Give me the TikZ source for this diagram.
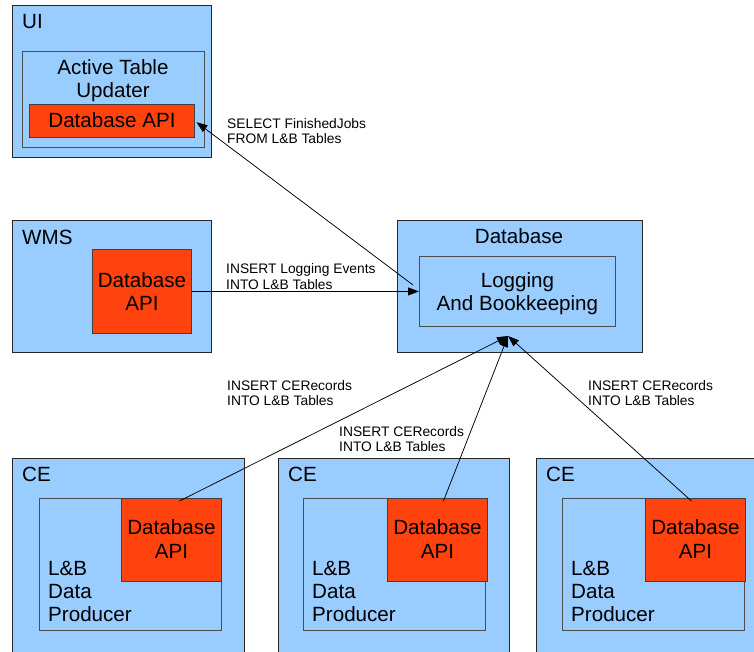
\documentclass[tikz,border=0pt]{standalone}
\usepackage{fontspec}
\setmainfont{Liberation Sans}
\usetikzlibrary{arrows.meta,calc}
\definecolor{paleblue}{RGB}{153,204,255}
\definecolor{apired}{RGB}{255,66,14}
\begin{document}
\begin{tikzpicture}[x=1pt,y=-1pt,
  box/.style={draw=black!85, fill=paleblue, line width=0.9pt, inner sep=0pt, anchor=north west},
  sub/.style={draw=black!70, fill=paleblue, line width=0.9pt, inner sep=0pt, anchor=north west},
  api/.style={draw=black!75, fill=apired, line width=0.9pt, inner sep=0pt, anchor=north west},
  big/.style={font=\fontsize{20.6}{23}\selectfont, inner sep=0pt},
  lbl/.style={font=\fontsize{13.8}{15.5}\selectfont, inner sep=0pt, anchor=base west},
  flow/.style={-{Triangle[length=11pt,width=8pt]}, line width=0.75pt, black}]
\useasboundingbox (0,0) rectangle (754,651);
\clip (0,0) rectangle (754,651);

% ---------- UI ----------
\node[box, minimum width=199pt, minimum height=152pt] (ui) at (12,5) {};
\node[sub, minimum width=182pt, minimum height=96pt] (atu) at (22,51) {};
\node[api, minimum width=165pt, minimum height=33pt] (uiapi) at (29,104) {};
\node[big, anchor=base west] (uiT) at (22,28) {UI};
\node[big, anchor=base] (atuA) at (113,74) {Active Table};
\node[big, anchor=base] (atuB) at (113,97) {Updater};
\node[big, anchor=base] (uiapiT) at (uiapi.center |- 0,127) {Database API};

% ---------- WMS ----------
\node[box, minimum width=199pt, minimum height=132pt] (wms) at (12,220) {};
\node[api, minimum width=99pt, minimum height=84pt] (wmsapi) at (92,249) {};
\node[big, anchor=base west] (wmsT) at (22,244) {WMS};
\node[big, anchor=base] (wmsapiA) at (wmsapi.center |- 0,287) {Database};
\node[big, anchor=base] (wmsapiB) at (wmsapi.center |- 0,310) {API};

% ---------- Database ----------
\node[box, minimum width=245pt, minimum height=132pt] (db) at (397,220) {};
\node[sub, minimum width=196pt, minimum height=70pt] (lb) at (419,256) {};
\node[big, anchor=base] (dbT) at (519,243) {Database};
\node[big, anchor=base] (lbA) at (lb.center |- 0,287.5) {Logging};
\node[big, anchor=base] (lbB) at (lb.center |- 0,310.5) {And Bookkeeping};

% ---------- CE hosts ----------
\foreach \n/\ox/\ow/\ix/\ax in {1/12/232/39/121, 2/278/231/303/387, 3/536/232/562/645}{
  \node[box, minimum width=\ow pt, minimum height=200pt] (ce\n) at (\ox,458) {};
  \node[sub, minimum width=182pt, minimum height=132pt] (prod\n) at (\ix,498) {};
  \node[api, minimum width=100pt, minimum height=83pt] (ceapi\n) at (\ax,498) {};
  \node[big, anchor=base west] (ceT\n) at (\ox+10,481.5) {CE};
  \node[big, anchor=base] (ceapiA\n) at (ceapi\n.center |- 0,534.5) {Database};
  \node[big, anchor=base] (ceapiB\n) at (ceapi\n.center |- 0,558) {API};
  \node[big, anchor=base west] (prodA\n) at (\ix+9,575) {L\&B};
  \node[big, anchor=base west] (prodB\n) at (\ix+9,598.3) {Data};
  \node[big, anchor=base west] (prodC\n) at (\ix+9,621.6) {Producer};
}

% ---------- connectors ----------
\coordinate (selsrc) at (413,285);
\coordinate (dbin) at (508,336);

\draw[flow] (wmsapi.east) -- (wmsapi.east -| lb.west);
\draw[flow, shorten >=2pt] (selsrc) -- (uiapi.east);
\draw[flow] ($(ceapi1.north)+(8,3)$) -- (dbin);
\draw[flow] ($(ceapi2.north)+(6,3)$) -- (dbin);
\draw[flow] ($(ceapi3.north)+(-4,3)$) -- (dbin);

% ---------- connector labels ----------
\node[lbl] (selA) at (227,128) {SELECT FinishedJobs};
\node[lbl] (selB) at (227,143.5) {FROM L\&B Tables};
\node[lbl] (logA) at (226,273.7) {INSERT Logging Events};
\node[lbl] (logB) at (226,289) {INTO L\&B Tables};
\node[lbl] (ceLa1) at (227,390) {INSERT CERecords};
\node[lbl] (ceLb1) at (227,405.5) {INTO L\&B Tables};
\node[lbl] (ceLa2) at (339,436) {INSERT CERecords};
\node[lbl] (ceLb2) at (339,451.5) {INTO L\&B Tables};
\node[lbl] (ceLa3) at (588,390) {INSERT CERecords};
\node[lbl] (ceLb3) at (588,405.5) {INTO L\&B Tables};
\end{tikzpicture}
\end{document}
